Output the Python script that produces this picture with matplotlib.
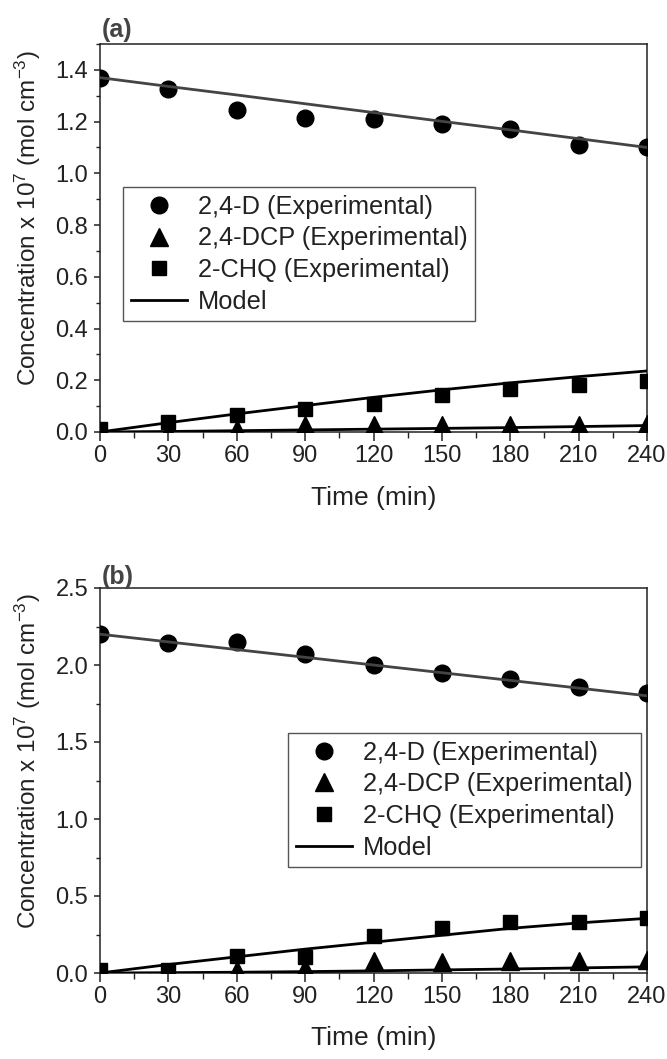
import numpy as np
import matplotlib
matplotlib.use("Agg")
import matplotlib.pyplot as plt
from matplotlib.ticker import MultipleLocator, FormatStrFormatter

plt.rcParams['font.family'] = ['Liberation Sans', 'DejaVu Sans']
plt.rcParams['mathtext.fontset'] = 'custom'
plt.rcParams['mathtext.rm'] = 'Liberation Sans'
plt.rcParams['mathtext.it'] = 'Liberation Sans:italic'
plt.rcParams['mathtext.bf'] = 'Liberation Sans:bold'

# time points (min)
time = [0, 30, 60, 90, 120, 150, 180, 210, 240]

# panel (a) experimental
a_d = [1.37, 1.325, 1.245, 1.215, 1.21, 1.19, 1.17, 1.11, 1.10]
a_dcp = [0.0, 0.0, 0.01, 0.028, 0.028, 0.028, 0.028, 0.028, 0.03]
a_chq = [0.013, 0.04, 0.065, 0.088, 0.11, 0.142, 0.165, 0.18, 0.198]
# panel (a) model
a_d_mod = [1.37, 1.336, 1.303, 1.269, 1.235, 1.201, 1.168, 1.134, 1.10]
a_dcp_mod = [0.0, 0.002, 0.005, 0.008, 0.011, 0.014, 0.017, 0.021, 0.025]
a_chq_mod = [0.0, 0.036, 0.07, 0.102, 0.134, 0.163, 0.19, 0.214, 0.236]

# panel (b) experimental
b_d = [2.20, 2.14, 2.15, 2.07, 2.00, 1.95, 1.91, 1.86, 1.82]
b_dcp = [0.0, 0.0, 0.02, 0.03, 0.08, 0.07, 0.075, 0.08, 0.085]
b_chq = [0.02, 0.02, 0.11, 0.105, 0.24, 0.29, 0.33, 0.33, 0.36]
# panel (b) model
b_d_mod = [2.20, 2.15, 2.10, 2.05, 2.00, 1.95, 1.90, 1.85, 1.80]
b_dcp_mod = [0.0, 0.002, 0.005, 0.009, 0.014, 0.02, 0.026, 0.033, 0.04]
b_chq_mod = [0.0, 0.055, 0.105, 0.155, 0.20, 0.245, 0.29, 0.325, 0.355]

labels = ['2,4-D (Experimental)', '2,4-DCP (Experimental)',
          '2-CHQ (Experimental)', 'Model']

fig = plt.figure(figsize=(6.67, 10.59), dpi=100)
W, H = 667, 1059


def make_axes(left, top, right, bottom):
    return fig.add_axes([left / W, 1 - bottom / H, (right - left) / W, (bottom - top) / H])


ax_a = make_axes(100, 44, 647, 432)
ax_b = make_axes(100, 588, 647, 973)


def draw(ax, d, dcp, chq, d_mod, dcp_mod, chq_mod, ymax, ymaj, ymin_, leg_anchor, xlab_y):
    h1, = ax.plot(time, d, 'o', color='black', ms=12, zorder=3)
    h2, = ax.plot(time, dcp, '^', color='black', ms=13, zorder=3)
    h3, = ax.plot(time, chq, 's', color='black', ms=10, zorder=4)
    ax.plot(time, d_mod, '-', color='#444444', lw=2.0, zorder=5)
    h4, = ax.plot(time, chq_mod, '-', color='black', lw=2.0, zorder=5)
    ax.plot(time, dcp_mod, '-', color='black', lw=2.0, zorder=5)

    ax.set_xlim(0, 240)
    ax.set_ylim(0, ymax)
    ax.xaxis.set_major_locator(MultipleLocator(30))
    ax.xaxis.set_minor_locator(MultipleLocator(15))
    ax.yaxis.set_major_locator(MultipleLocator(ymaj))
    ax.yaxis.set_minor_locator(MultipleLocator(ymin_))
    ax.yaxis.set_major_formatter(FormatStrFormatter('%.1f'))
    ax.tick_params(axis='both', which='both', direction='out', top=False, right=False,
                   colors='#222222', labelcolor='#222222')
    ax.tick_params(axis='x', which='major', length=6.5, width=1.1, labelsize=17, pad=3)
    ax.tick_params(axis='x', which='minor', length=4.3, width=1.0)
    ax.tick_params(axis='y', which='major', length=4.5, width=1.1, labelsize=17, pad=4)
    ax.tick_params(axis='y', which='minor', length=3, width=1.0)
    for sp in ax.spines.values():
        sp.set_linewidth(1.1)
        sp.set_color('#222222')

    ax.set_xlabel('Time (min)', fontsize=19, color='#222222')
    ax.set_ylabel(r'Concentration x 10$^{7}$ (mol cm$^{\mathrm{-3}}$)', fontsize=17.5,
                  color='#222222')
    ax.xaxis.set_label_coords(0.5, xlab_y)
    ax.yaxis.set_label_coords(-0.105, 0.55)

    leg = ax.legend([h1, h2, h3, h4], labels, loc='upper left', bbox_to_anchor=leg_anchor,
                    borderaxespad=0, fontsize=18.3, frameon=True, fancybox=False,
                    edgecolor='#555555', framealpha=1, numpoints=1, handlelength=2.2,
                    handletextpad=0.45, labelspacing=0.3, borderpad=0.3)
    leg.get_frame().set_linewidth(1.0)
    for t in leg.get_texts():
        t.set_color('#222222')


draw(ax_a, a_d, a_dcp, a_chq, a_d_mod, a_dcp_mod, a_chq_mod, 1.5, 0.2, 0.1,
     (0.042, 0.631), -0.14)
draw(ax_b, b_d, b_dcp, b_chq, b_d_mod, b_dcp_mod, b_chq_mod, 2.5, 0.5, 0.25,
     (0.344, 0.623), -0.137)

fig.text(102 / W, 1 - 30 / H, '(a)', fontsize=18, fontweight='bold', color='#444444',
         ha='left', va='center')
fig.text(102 / W, 1 - 577 / H, '(b)', fontsize=18, fontweight='bold', color='#444444',
         ha='left', va='center')

fig.savefig('out.png', dpi=100)
